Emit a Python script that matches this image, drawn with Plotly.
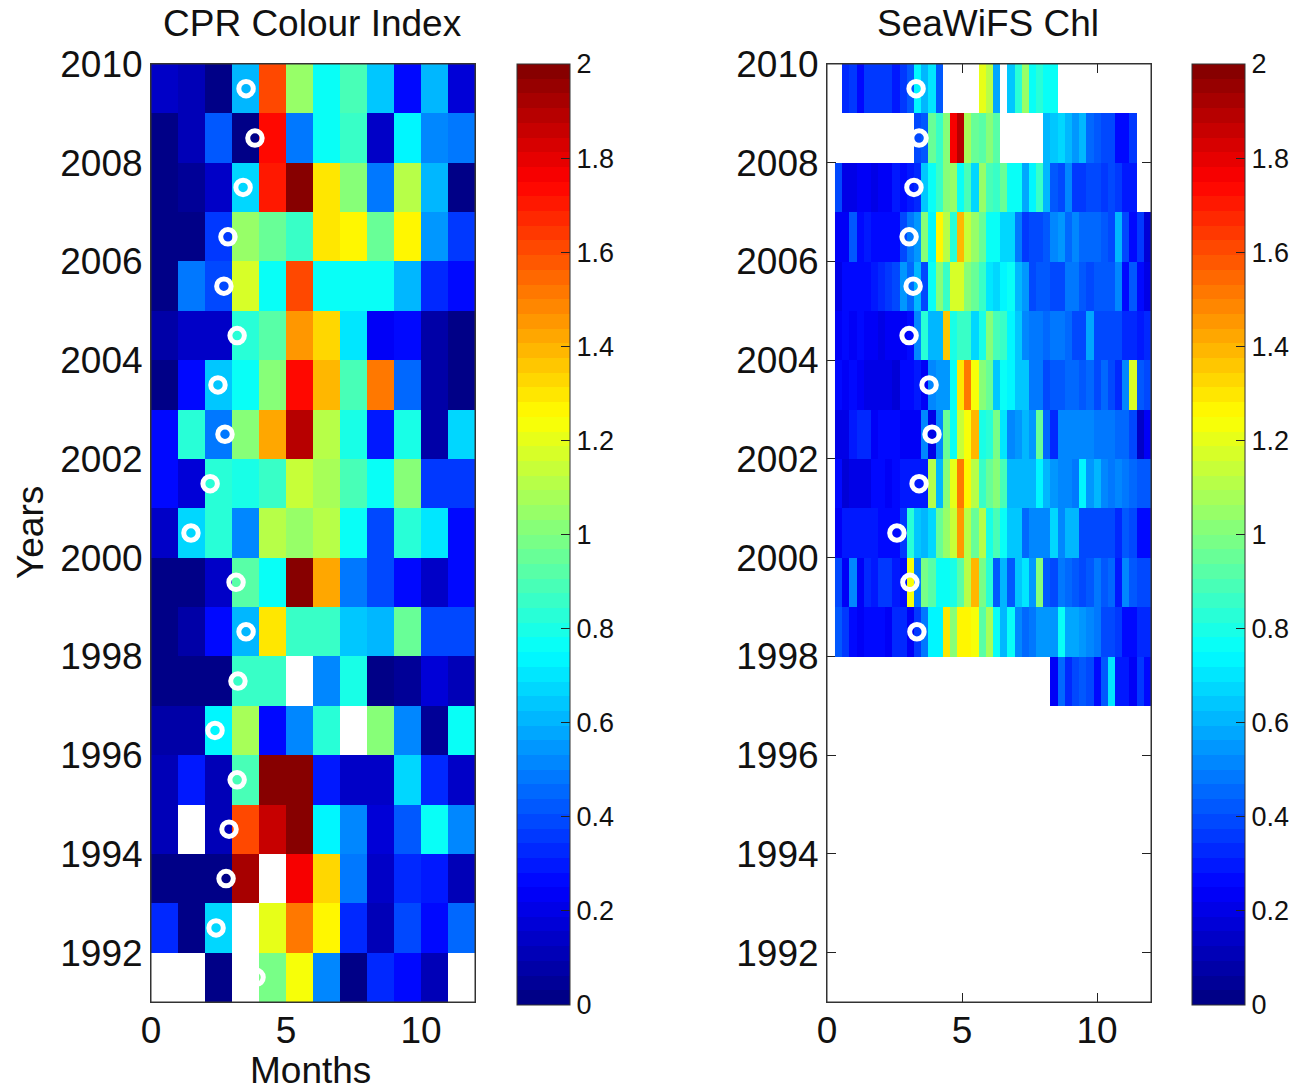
import plotly.graph_objects as go

N = None
W, H = 1310, 1091   # a little spare width so the right colour bar's labels do not push the plot area

# ---------- CPR Colour Index: 12 months, one list per year ----------
month_edges = [0, 1, 2, 3, 4, 5, 6, 7, 8, 9, 10, 11, 12]
year_edges = list(range(1991, 2011))

cpr_1991 = [N, N, .03, N, .97, 1.23, .52, .02, .32, .28, .12, N]
cpr_1992 = [.33, .03, .68, N, 1.20, 1.50, 1.25, .34, .12, .38, .26, .45]
cpr_1993 = [.03, .03, .03, 1.92, N, 1.75, 1.32, .47, .13, .33, .30, .12]
cpr_1994 = [.12, N, .12, 1.60, 1.85, 2.0, .72, .52, .18, .42, .75, .50]
cpr_1995 = [.11, .30, .11, .90, 2.0, 2.0, .30, .15, .15, .67, .33, .15]
cpr_1996 = [.08, .08, .72, 1.07, .28, .52, .83, N, 1.0, .50, .04, .75]
cpr_1997 = [.03, .03, .03, .85, .87, N, .50, .80, .02, .05, .17, .12]
cpr_1998 = [.02, .08, .25, .60, 1.30, .85, .85, .63, .60, .95, .40, .40]
cpr_1999 = [.03, .03, .15, .92, .78, 1.98, 1.42, .47, .40, .25, .15, .25]
cpr_2000 = [.15, .67, .83, .50, 1.10, 1.05, 1.10, .77, .40, .83, .70, .28]
cpr_2001 = [.25, .17, .83, .80, .85, 1.15, 1.07, .90, .77, 1.0, .37, .37]
cpr_2002 = [.25, .83, .47, 1.03, 1.43, 1.90, 1.10, .80, .30, .80, .08, .67]
cpr_2003 = [.03, .25, .65, .75, 1.03, 1.72, 1.40, .90, 1.50, .45, .07, .03]
cpr_2004 = [.08, .13, .13, .83, .93, 1.45, 1.33, .70, .22, .28, .08, .03]
cpr_2005 = [.02, .47, .38, 1.17, .75, 1.60, .75, .75, .75, .60, .33, .25]
cpr_2006 = [.02, .02, .35, 1.05, .96, .85, 1.30, 1.25, .95, 1.25, .55, .35]
cpr_2007 = [.02, .04, .15, .67, 1.70, 1.98, 1.30, 1.02, .47, 1.12, .60, .02]
cpr_2008 = [.02, .10, .42, .03, 1.72, .47, .78, .87, .15, .74, .53, .47]
cpr_2009 = [.15, .10, .02, .60, 1.60, 1.05, .78, .90, .65, .25, .60, .18]

cpr_z = [cpr_1991, cpr_1992, cpr_1993, cpr_1994, cpr_1995, cpr_1996, cpr_1997,
         cpr_1998, cpr_1999, cpr_2000, cpr_2001, cpr_2002, cpr_2003, cpr_2004,
         cpr_2005, cpr_2006, cpr_2007, cpr_2008, cpr_2009]

cpr_onset_month = [3.89, 2.41, 2.78, 2.89, 3.19, 2.37, 3.22, 3.52, 3.15, 1.48,
                   2.19, 2.74, 2.48, 3.19, 2.70, 2.85, 3.41, 3.85, 3.52]
year_centres = [1991.5, 1992.5, 1993.5, 1994.5, 1995.5, 1996.5, 1997.5, 1998.5, 1999.5,
                2000.5, 2001.5, 2002.5, 2003.5, 2004.5, 2005.5, 2006.5, 2007.5, 2008.5, 2009.5]

# ---------- SeaWiFS Chl: 44 composites per year ----------
chl_edges = [0.296 + (12 - 0.296) * k / 44 for k in range(45)]
chl_years = [1997, 1998, 1999, 2000, 2001, 2002, 2003, 2004, 2005, 2006, 2007, 2008, 2009, 2010]

chl_1997 = [N] * 30 + [.22, .45, .33, .38, .42, .38, .28, .42, .70, .30, .30, .22, .35, .28]
chl_1998 = [.42, .36, .28, .22, .28, .28, .28, .22, .33, .33, .24, .35, .47, .72, .72, 1.30, 1.0, 1.27, 1.27, 1.23, .92, 1.08,
            .75, .60, .78, .50, .45, .48, .55, .55, .55, .75, .58, .58, .55, .53, .47, .40, .38, .36, .28, .28, .34, .33]
chl_1999 = [.40, .22, .52, .22, .33, .31, .37, .36, .31, .28, 1.22, .47, .98, .93, .75, .75, .80, .93, 1.12, 1.40, .97, .82,
            .42, .60, .42, .63, .70, .55, 1.0, .42, .38, .47, .45, .42, .40, .42, .47, .42, .45, .31, .50, .42, .40, .38]
chl_2000 = [.24, .30, .31, .31, .31, .31, .25, .25, .28, .37, .82, .65, .62, .68, .95, 1.05, 1.15, 1.45, 1.10, .95, 1.10, .80,
            .90, .77, .65, .65, .45, .50, .50, .50, .67, .50, .60, .60, .40, .40, .40, .40, .38, .34, .42, .40, .27, .27]
chl_2001 = [.25, .18, .21, .21, .21, .27, .27, .24, .25, .30, .30, .30, .30, 1.12, .62, 1.0, 1.20, 1.50, 1.25, 1.10, .87, .95,
            1.0, .90, .62, .62, .62, .60, .72, .62, .55, .50, .50, .47, .72, .55, .62, .50, .47, .50, .47, .45, .42, .42]
chl_2002 = [.21, .21, .31, .33, .33, .22, .27, .27, .27, .22, .22, .22, .50, .20, .50, .95, .75, 1.15, 1.22, 1.40, .80, .82,
            .97, .70, .52, .55, .62, .55, .95, .45, .32, .50, .50, .52, .50, .50, .48, .47, .47, .45, .45, .40, .14, .22]
chl_2003 = [.27, .22, .27, .24, .20, .20, .20, .20, .18, .27, .27, .31, .22, .50, .55, .55, .77, 1.30, 1.50, 1.23, 1.0, .95,
            .65, .77, .72, .65, .65, .47, .47, .40, .41, .43, .45, .45, .42, .45, .40, .45, .38, .33, .52, 1.17, .43, .40]
chl_2004 = [.22, .28, .24, .27, .22, .22, .20, .22, .22, .22, .27, .50, .82, .60, .62, 1.37, .80, .85, .85, .68, .80, 1.02,
            .90, .85, .72, .65, .50, .47, .47, .45, .47, .47, .45, .38, .40, .58, .40, .38, .38, .38, .33, .33, .31, .33]
chl_2005 = [.19, .27, .27, .25, .27, .31, .34, .36, .40, .55, .45, .62, .40, .75, 1.02, .85, 1.17, 1.17, 1.02, .95, .85, .70,
            .67, .72, .75, .60, .55, .40, .42, .41, .40, .40, .47, .47, .42, .40, .41, .42, .42, .52, .27, .42, .25, .20]
chl_2006 = [.22, .22, .42, .27, .31, .27, .28, .27, .27, .38, .47, .55, 1.0, .72, 1.25, 1.12, .83, 1.40, 1.15, 1.05, .95, .75,
            .75, .67, .67, .47, .35, .40, .40, .42, .50, .55, .45, .50, .45, .45, .45, .43, .40, .62, .40, .27, .36, .17]
chl_2007 = [.38, .19, .19, .22, .24, .19, .22, .24, .31, .28, .31, .33, .65, .75, .85, 1.0, 1.05, .75, .90, .67, 1.05, .88,
            .85, .95, .75, .75, .58, .72, .85, .62, .42, .40, .50, .35, .35, .38, .40, .35, .38, .35, .31, .31, N, N]
chl_2008 = [N, N, N, N, N, N, N, N, N, N, N, .40, .42, .95, .85, 1.0, 1.75, 1.88, 1.07, .95, .92, 1.0,
            .93, N, N, N, N, N, N, .60, .65, .68, .62, .55, .62, .45, .42, .40, .40, .28, .28, .35, N, N]
chl_2009 = [N, .33, .37, .27, .35, .35, .37, .35, .31, .35, .42, .73, .60, .70, .42, N, N, N, N, N, 1.20, 1.10,
            .58, N, .65, .83, 1.05, .75, .82, .78, .76, N, N, N, N, N, N, N, N, N, N, N, N, N]

chl_z = [chl_1997, chl_1998, chl_1999, chl_2000, chl_2001, chl_2002, chl_2003,
         chl_2004, chl_2005, chl_2006, chl_2007, chl_2008, chl_2009]

chl_onset_month = [3.33, 3.07, 2.59, 3.41, 3.89, 3.78, 3.04, 3.19, 3.04, 3.22, 3.41, 3.30]
chl_onset_year = [1998.5, 1999.5, 2000.5, 2001.5, 2002.5, 2003.5, 2004.5, 2005.5, 2006.5, 2007.5, 2008.5, 2009.5]

year_ticks = [1992, 1994, 1996, 1998, 2000, 2002, 2004, 2006, 2008, 2010]
month_ticks = [0, 5, 10]
cbar_ticks = [0, .2, .4, .6, .8, 1, 1.2, 1.4, 1.6, 1.8, 2]
cbar_labels = ['0', '0.2', '0.4', '0.6', '0.8', '1', '1.2', '1.4', '1.6', '1.8', '2']


def jet(n=64):
    out = []
    for i in range(n):
        t = (i + .5) / n
        r = min(4 * t - 1.5, -4 * t + 4.5)
        g = min(4 * t - .5, -4 * t + 3.5)
        b = min(4 * t + .5, -4 * t + 2.5)
        c = [round(255 * max(0, min(1, v))) for v in (r, g, b)]
        out.append(f'rgb({c[0]},{c[1]},{c[2]})')
    return out


colors = jet()
scale = []
for i, c in enumerate(colors):
    scale += [[i / 64, c], [(i + 1) / 64, c]]

FONT = 'Liberation Sans, Arial, sans-serif'
INK = '#111111'


def cbar(px):
    return dict(
        x=px / W, xref='paper', xanchor='left', xpad=0, ypad=0,
        y=1 - 64 / H, yref='paper', yanchor='top',
        thickness=53, thicknessmode='pixels', len=941, lenmode='pixels',
        tickvals=cbar_ticks, ticktext=cbar_labels, ticks='inside', ticklen=9,
        tickcolor='#222222', tickfont=dict(family=FONT, size=27, color=INK),
        outlinecolor='#333333', outlinewidth=1,
    )


fig = go.Figure()
fig.add_trace(go.Heatmap(x=month_edges, y=year_edges, z=cpr_z, zmin=0, zmax=2, colorscale=scale,
                         colorbar=cbar(517), hoverongaps=False, xaxis='x', yaxis='y'))
fig.add_trace(go.Heatmap(x=chl_edges, y=chl_years, z=chl_z, zmin=0, zmax=2, colorscale=scale,
                         colorbar=cbar(1192), hoverongaps=False, xaxis='x2', yaxis='y2'))

ring = dict(symbol='circle-open', size=14.5, color='white', line=dict(color='white', width=5))
fig.add_trace(go.Scatter(x=cpr_onset_month, y=year_centres, mode='markers', marker=ring,
                         showlegend=False, xaxis='x', yaxis='y'))
fig.add_trace(go.Scatter(x=chl_onset_month, y=chl_onset_year, mode='markers', marker=ring,
                         showlegend=False, xaxis='x2', yaxis='y2'))

x_common = dict(range=[0, 12], tickvals=month_ticks, ticks='inside', ticklen=9, tickcolor='#222222',
                tickfont=dict(family=FONT, size=37, color=INK), showgrid=False, zeroline=False, automargin=False,
                ticklabelstandoff=-4,
                mirror='ticks', showline=True, linecolor='#333333', layer='below traces')
y_common = dict(range=[1991, 2010], tickvals=year_ticks, ticks='inside', ticklen=9, tickcolor='#222222',
                tickfont=dict(family=FONT, size=37, color=INK), showgrid=False, zeroline=False, automargin=False,
                mirror='ticks', showline=True, linecolor='#333333', layer='below traces')


def label(text, px, py, angle=0):
    return dict(text=text, x=px / W, y=1 - py / H, xref='paper', yref='paper', showarrow=False,
                xanchor='center', yanchor='middle', textangle=angle,
                font=dict(family=FONT, size=37, color=INK))


fig.update_layout(
    width=W, height=H, margin=dict(l=0, r=0, t=0, b=0), autosize=False,
    paper_bgcolor='white', plot_bgcolor='white', showlegend=False,
    xaxis=dict(domain=[151 / W, 475 / W], anchor='y', **x_common),
    yaxis=dict(domain=[1 - 1002 / H, 1 - 64 / H], anchor='x', **y_common),
    xaxis2=dict(domain=[827 / W, 1151 / W], anchor='y2', **x_common),
    yaxis2=dict(domain=[1 - 1002 / H, 1 - 64 / H], anchor='x2', **y_common),
    annotations=[
        label('CPR Colour Index', 312, 23),
        label('SeaWiFS Chl', 988, 23),
        label('Months', 310, 1070),
        label('Years', 30, 533, -90),
    ],
    shapes=[
        dict(type='rect', xref='x domain', yref='y domain', x0=0, x1=1, y0=0, y1=1,
             line=dict(color='#333333', width=1), layer='above'),
        dict(type='rect', xref='x2 domain', yref='y2 domain', x0=0, x1=1, y0=0, y1=1,
             line=dict(color='#333333', width=1), layer='above'),
    ],
)

fig.write_html('out.html', config={'displayModeBar': False},
               post_script="document.body.style.margin='0';"
                           "document.documentElement.style.overflow='hidden';")
